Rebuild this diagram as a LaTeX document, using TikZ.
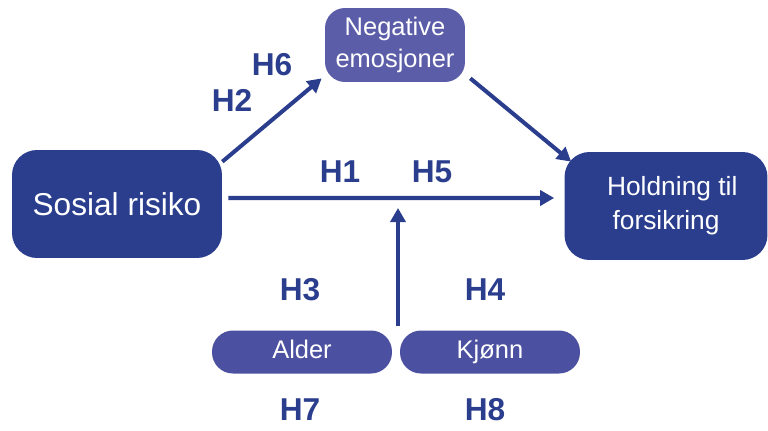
\documentclass[tikz,border=0pt]{standalone}
\usepackage{fontspec}
\setmainfont{Liberation Sans}
\usetikzlibrary{arrows.meta}
\definecolor{darkblue}{HTML}{2B3E8E}
\definecolor{midblue}{HTML}{5B5DA9}
\definecolor{lightblue}{HTML}{4B51A0}
\begin{document}
\begin{tikzpicture}[x=0.02cm, y=-0.02cm,
        box/.style={fill=darkblue, text=white, rounded corners=0.5cm, align=center, inner sep=0pt},
        pill/.style={fill=lightblue, text=white, rounded corners=0.42cm, inner sep=0pt, text height=0.72em, text depth=0pt, font=\fontsize{14.5}{16}\selectfont},
        hyp/.style={text=darkblue, font=\fontsize{18}{20}\selectfont\bfseries},
        arr/.style={-{Triangle[length=0.28cm, width=0.3cm]}, darkblue, line width=2.3pt}]
                \useasboundingbox (0, 0) rectangle (768, 430);
                % Nodes
                \node[box, minimum width=4.2cm, minimum height=2.16cm, font=\fontsize{18}{20}\selectfont] at (117, 204) (sr) {Sosial risiko};
                \node[box, fill=midblue, rounded corners=0.4cm, minimum width=2.8cm, minimum height=1.48cm, font=\fontsize{14.5}{18}\selectfont] at (395, 45) (ne) {Negative\\emosjoner};
                \node[box, minimum width=4.06cm, minimum height=2.16cm, font=\fontsize{15}{19.5}\selectfont] at (666, 206) (hf) {\hspace*{0.25cm}Holdning til\\forsikring};
                \node[pill, minimum width=3.6cm, minimum height=0.86cm] at (302, 352) (al) {Alder};
                \node[pill, minimum width=3.6cm, minimum height=0.86cm] at (490, 352) (kj) {Kjønn};
                \coordinate (mod) at (398, 326);
                \coordinate (hit) at (398, 208);

                % Labels
                \node[hyp] at (272, 65) (h6) {H6};
                \node[hyp] at (232, 100) (h2) {H2};
                \node[hyp] at (340, 172) (h1) {H1};
                \node[hyp] at (432, 172) (h5) {H5};
                \node[hyp] at (300, 290) (h3) {H3};
                \node[hyp] at (485, 290) (h4) {H4};
                \node[hyp] at (300, 410) (h7) {H7};
                \node[hyp] at (485, 410) (h8) {H8};

                % Edges
                \draw[arr, shorten <=0.12cm, shorten >=0.2cm] ([yshift=0.12cm]sr.east) -- ([yshift=0.16cm]hf.west);
                \draw[arr] ([yshift=-0.24cm]sr.north east) -- ([shift={(-0.06cm,0.08cm)}]ne.south west);
                \draw[arr] ([shift={(0.1cm,0.08cm)}]ne.south east) -- ([shift={(0.14cm,-0.2cm)}]hf.north west);
                \draw[arr] (mod) -- (hit);
            \end{tikzpicture}
\end{document}
